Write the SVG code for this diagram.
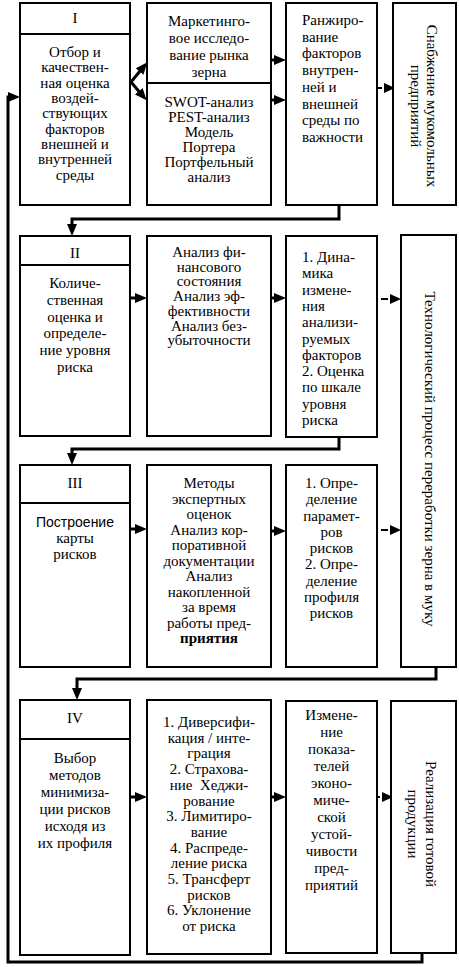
<svg xmlns="http://www.w3.org/2000/svg" width="459" height="967" viewBox="0 0 459 967">
<style>
.box{fill:#fff;stroke:#000;stroke-width:2}
.t{font-family:"Liberation Serif","Times New Roman",serif;font-size:15px;fill:#000}
.s{font-family:"Liberation Sans",Arial,sans-serif;font-size:14px}
.c{text-anchor:middle}
.conn{fill:none;stroke:#000;stroke-width:3}
.dash{fill:none;stroke:#000;stroke-width:2}
</style>
<defs>
<marker id="ah" markerUnits="userSpaceOnUse" markerWidth="12" markerHeight="10" refX="2" refY="5" orient="auto"><path d="M0,0 L12,5 L0,10 z" fill="#000"/></marker>
<marker id="ahd" markerUnits="userSpaceOnUse" markerWidth="14" markerHeight="10" refX="-2" refY="5" orient="auto" overflow="visible"><path d="M0,0 L11,5 L0,10 z" fill="#000"/></marker>
</defs>
<rect width="459" height="967" fill="#fff"/>

<g id="connectors">
<path class="conn" d="M131,82 L140.9,70" marker-end="url(#ah)"/>
<path class="conn" d="M131,82 L140.1,92.7" marker-end="url(#ah)"/>
<path class="conn" d="M271,60 H276" marker-end="url(#ah)"/>
<path class="conn" d="M271,100 H276" marker-end="url(#ah)"/>
<path class="dash" d="M378,88 H382" marker-end="url(#ahd)"/>
<path class="conn" d="M339,205 V219 H72 V226" marker-end="url(#ah)"/>
<path class="conn" d="M130,298 H137" marker-end="url(#ah)"/>
<path class="conn" d="M271,298 H276" marker-end="url(#ah)"/>
<path class="dash" d="M381,299 H388" marker-end="url(#ahd)"/>
<path class="conn" d="M339,437 V449 H72 V455" marker-end="url(#ah)"/>
<path class="conn" d="M130,529 H137" marker-end="url(#ah)"/>
<path class="conn" d="M271,531 H276" marker-end="url(#ah)"/>
<path class="dash" d="M381,530 H388" marker-end="url(#ahd)"/>
<path class="conn" d="M436,667 V679 H77 V690" marker-end="url(#ah)"/>
<path class="conn" d="M130,797 H137" marker-end="url(#ah)"/>
<path class="conn" d="M271,797 H276" marker-end="url(#ah)"/>
<path class="dash" d="M377,797 H380" marker-end="url(#ahd)"/>
<path class="conn" d="M422,953 V962 H8 V97 H10" marker-end="url(#ah)"/>
</g>

<g id="stage1">
<rect class="box" x="20" y="3" width="110" height="202"/>
<line x1="20" y1="34" x2="130" y2="34" stroke="#000" stroke-width="2"/>
<text class="t c" x="75" y="23">I</text>
<text class="t c" x="75" y="57">Отбор и</text>
<text class="t c" x="75" y="72">качествен-</text>
<text class="t c" x="75" y="87.5">ная оценка</text>
<text class="t c" x="75" y="103">воздей-</text>
<text class="t c" x="75" y="118">ствующих</text>
<text class="t c" x="75" y="133.5">факторов</text>
<text class="t c" x="75" y="149">внешней и</text>
<text class="t c" x="75" y="164">внутренней</text>
<text class="t c" x="75" y="179.5">среды</text>
</g>

<g id="marketing">
<rect class="box" x="147" y="3" width="124" height="202"/>
<line x1="147" y1="83" x2="271" y2="83" stroke="#000" stroke-width="2"/>
<text class="t c" x="209" y="26">Маркетинго-</text>
<text class="t c" x="209" y="43">вое исследо-</text>
<text class="t c" x="209" y="60">вание рынка</text>
<text class="t c" x="209" y="77">зерна</text>
</g>

<g id="swot">
<text class="t c" x="209" y="107">SWOT-анализ</text>
<text class="t c" x="209" y="122">PEST-анализ</text>
<text class="t c" x="209" y="137">Модель</text>
<text class="t c" x="209" y="152">Портера</text>
<text class="t c" x="209" y="167">Портфельный</text>
<text class="t c" x="209" y="182">анализ</text>
</g>

<g id="ranking">
<rect class="box" x="286" y="3" width="91" height="202"/>
<text class="t" x="302" y="25">Ранжиро-</text>
<text class="t" x="302" y="41.7">вание</text>
<text class="t" x="302" y="58.4">факторов</text>
<text class="t" x="302" y="75">внутрен-</text>
<text class="t" x="302" y="91.8">ней и</text>
<text class="t" x="302" y="108.5">внешней</text>
<text class="t" x="302" y="125">среды по</text>
<text class="t" x="302" y="142">важности</text>
</g>

<g id="supply">
<rect class="box" x="393" y="3" width="63" height="202"/>
<text class="t c" transform="translate(427,106) rotate(90)" x="0" y="0">Снабжение мукомольных</text>
<text class="t c" transform="translate(411,106) rotate(90)" x="0" y="0">предприятий</text>
</g>

<g id="stage2">
<rect class="box" x="20" y="236" width="110" height="200"/>
<line x1="20" y1="265" x2="130" y2="265" stroke="#000" stroke-width="2"/>
<text class="t c" x="75" y="258">II</text>
<text class="t c" x="75" y="288">Количе-</text>
<text class="t c" x="75" y="304.8">ственная</text>
<text class="t c" x="75" y="321.6">оценка и</text>
<text class="t c" x="75" y="338.4">определе-</text>
<text class="t c" x="75" y="355.2">ние уровня</text>
<text class="t c" x="75" y="372">риска</text>
</g>

<g id="finance">
<rect class="box" x="147" y="236" width="124" height="200"/>
<text class="t c" x="209" y="257">Анализ фи-</text>
<text class="t c" x="209" y="271.7">нансового</text>
<text class="t c" x="209" y="286.4">состояния</text>
<text class="t c" x="209" y="301.1">Анализ эф-</text>
<text class="t c" x="209" y="315.8">фективности</text>
<text class="t c" x="209" y="330.5">Анализ без-</text>
<text class="t c" x="209" y="345.2">убыточности</text>
</g>

<g id="dynamics">
<rect class="box" x="286" y="236" width="91" height="201"/>
<text class="t" x="302" y="262">1. Дина-</text>
<text class="t" x="302" y="278.3">мика</text>
<text class="t" x="302" y="294.6">измене-</text>
<text class="t" x="302" y="310.9">ния</text>
<text class="t" x="302" y="327.2">анализи-</text>
<text class="t" x="302" y="343.5">руемых</text>
<text class="t" x="302" y="359.8">факторов</text>
<text class="t" x="302" y="376.1">2. Оценка</text>
<text class="t" x="302" y="392.4">по шкале</text>
<text class="t" x="302" y="408.7">уровня</text>
<text class="t" x="302" y="425">риска</text>
</g>

<g id="technology">
<rect class="box" x="401" y="235" width="55" height="432"/>
<text class="t c" transform="translate(425,459) rotate(90)" x="0" y="0">Технологический процесс переработки зерна в муку</text>
</g>

<g id="stage3">
<rect class="box" x="20" y="465" width="110" height="202"/>
<line x1="20" y1="503" x2="130" y2="503" stroke="#000" stroke-width="2"/>
<text class="t c" x="75" y="488">III</text>
<text class="t c s" x="75" y="527">Построение</text>
<text class="t c" x="75" y="543">карты</text>
<text class="t c" x="75" y="559">рисков</text>
</g>

<g id="expert">
<rect class="box" x="147" y="465" width="124" height="202"/>
<text class="t c" x="209" y="488">Методы</text>
<text class="t c" x="209" y="503.5">экспертных</text>
<text class="t c" x="209" y="519">оценок</text>
<text class="t c" x="209" y="534.5">Анализ кор-</text>
<text class="t c" x="209" y="550">поративной</text>
<text class="t c" x="209" y="565.5">документации</text>
<text class="t c" x="209" y="581">Анализ</text>
<text class="t c" x="209" y="596.5">накопленной</text>
<text class="t c" x="209" y="612">за время</text>
<text class="t c" x="209" y="627.5">работы пред-</text>
<text class="t c" x="209" y="643" font-weight="bold">приятия</text>
</g>

<g id="parameters">
<rect class="box" x="286" y="465" width="91" height="202"/>
<text class="t c" x="331.5" y="488">1. Опре-</text>
<text class="t c" x="331.5" y="504.3">деление</text>
<text class="t c" x="331.5" y="520.5">парамет-</text>
<text class="t c" x="331.5" y="536.8">ров</text>
<text class="t c" x="331.5" y="553">рисков</text>
<text class="t c" x="331.5" y="569.3">2. Опре-</text>
<text class="t c" x="331.5" y="585.5">деление</text>
<text class="t c" x="331.5" y="601.8">профиля</text>
<text class="t c" x="331.5" y="618">рисков</text>
</g>

<g id="stage4">
<rect class="box" x="20" y="700" width="110" height="255"/>
<line x1="20" y1="739" x2="130" y2="739" stroke="#000" stroke-width="2"/>
<text class="t c" x="75" y="723">IV</text>
<text class="t c" x="75" y="763">Выбор</text>
<text class="t c" x="75" y="780">методов</text>
<text class="t c" x="75" y="797">минимиза-</text>
<text class="t c" x="75" y="814">ции рисков</text>
<text class="t c" x="75" y="831">исходя из</text>
<text class="t c" x="75" y="848">их профиля</text>
</g>

<g id="methods">
<rect class="box" x="147" y="700" width="124" height="254"/>
<text class="t c" x="209" y="727">1. Диверсифи-</text>
<text class="t c" x="209" y="742.7">кация / инте-</text>
<text class="t c" x="209" y="758.4">грация</text>
<text class="t c" x="209" y="774.1">2. Страхова-</text>
<text class="t c" x="209" y="789.8" xml:space="preserve">ние  Хеджи-</text>
<text class="t c" x="209" y="805.5">рование</text>
<text class="t c" x="209" y="821.2">3. Лимитиро-</text>
<text class="t c" x="209" y="836.9">вание</text>
<text class="t c" x="209" y="852.6">4. Распреде-</text>
<text class="t c" x="209" y="868.3">ление риска</text>
<text class="t c" x="209" y="884">5. Трансферт</text>
<text class="t c" x="209" y="899.7">рисков</text>
<text class="t c" x="209" y="915.4">6. Уклонение</text>
<text class="t c" x="209" y="931.1">от риска</text>
</g>

<g id="change">
<rect class="box" x="286" y="701" width="91" height="252"/>
<text class="t c" x="331.5" y="720">Измене-</text>
<text class="t c" x="331.5" y="737">ние</text>
<text class="t c" x="331.5" y="754">показа-</text>
<text class="t c" x="331.5" y="771">телей</text>
<text class="t c" x="331.5" y="788">эконо-</text>
<text class="t c" x="331.5" y="805">миче-</text>
<text class="t c" x="331.5" y="822">ской</text>
<text class="t c" x="331.5" y="839">устой-</text>
<text class="t c" x="331.5" y="856">чивости</text>
<text class="t c" x="331.5" y="873">пред-</text>
<text class="t c" x="331.5" y="890">приятий</text>
</g>

<g id="sales">
<rect class="box" x="391" y="701" width="65" height="252"/>
<text class="t c" transform="translate(426,824) rotate(90)" x="0" y="0">Реализация готовой</text>
<text class="t c" transform="translate(408,824) rotate(90)" x="0" y="0">продукции</text>
</g>
</svg>
